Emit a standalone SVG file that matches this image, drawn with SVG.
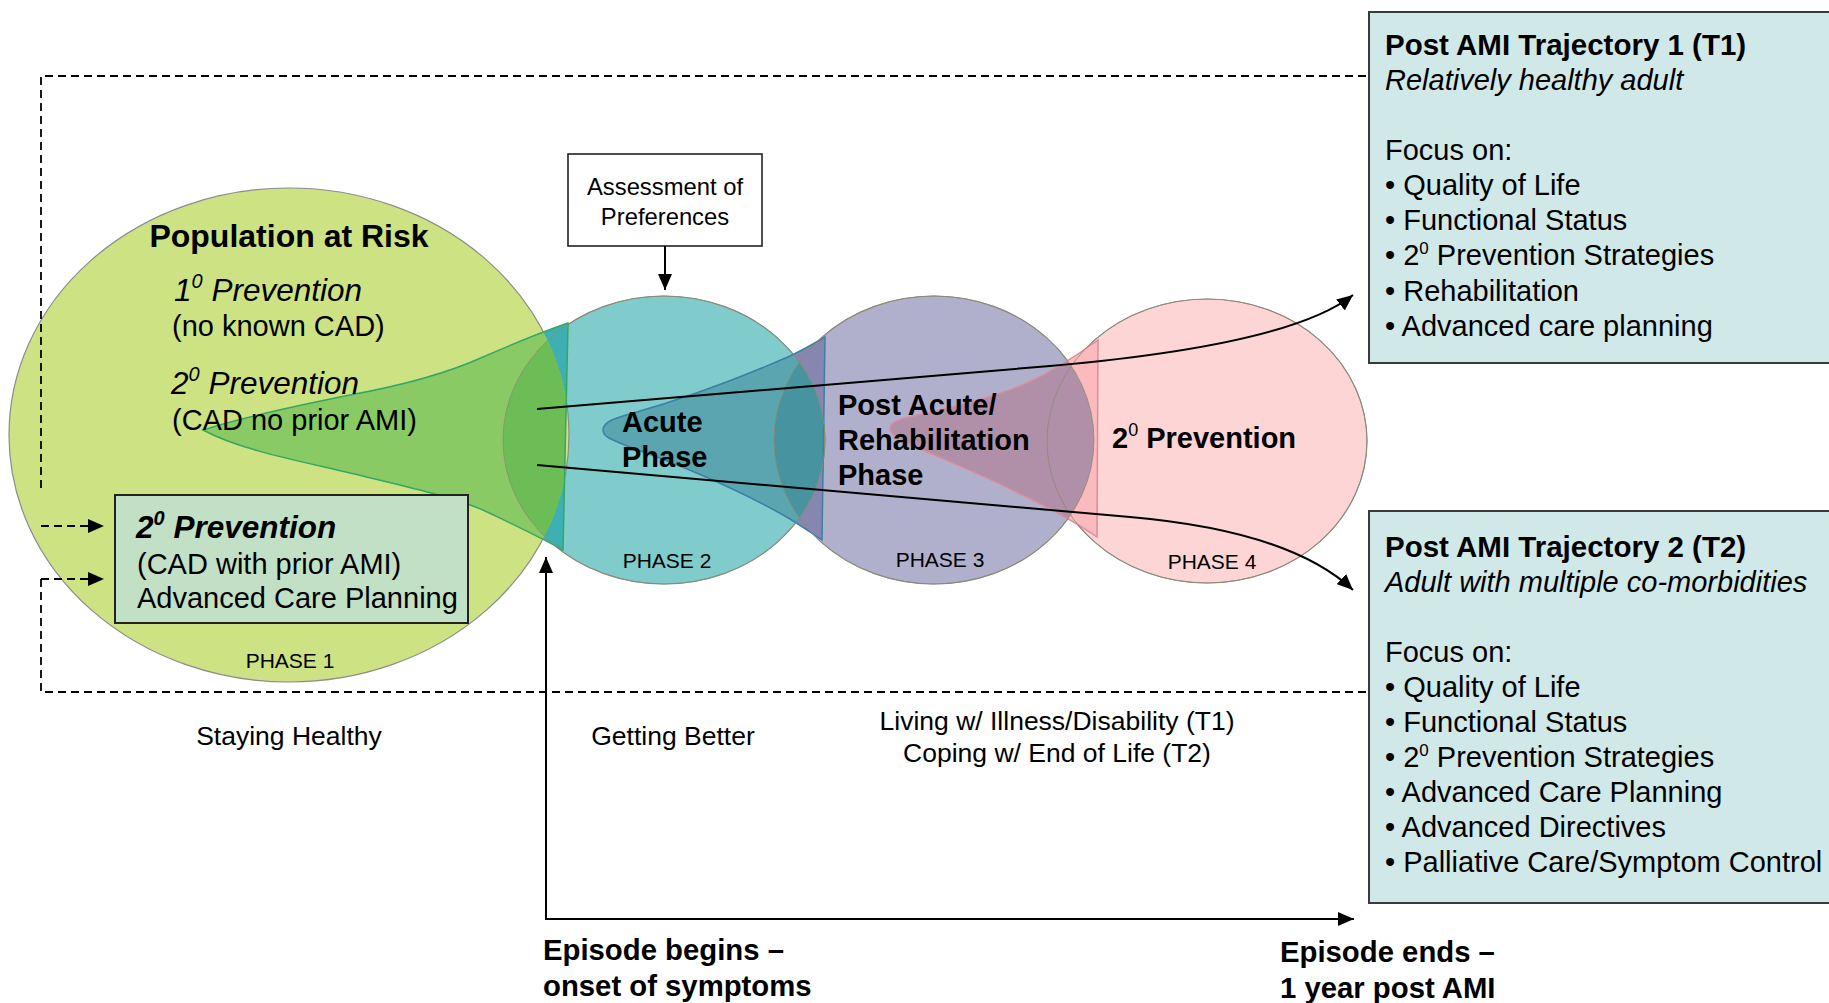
<svg xmlns="http://www.w3.org/2000/svg" xmlns:xlink="http://www.w3.org/1999/xlink" width="1829" height="1003" viewBox="0 0 1829 1003">
<style>
text{font-family:"Liberation Sans",Arial,sans-serif;fill:#000}
.ph{stroke:#8c8c8c;stroke-width:1.2}
.lbl{font-size:21px;text-anchor:middle}
.t29{font-size:29px}
.t26{font-size:26.5px}
.it{font-size:31.5px;font-style:italic}
.b{font-weight:bold}
.i{font-style:italic}
.box{font-size:29px}
.ep{font-size:29.3px;font-weight:bold}
.con{fill:none;stroke:#000;stroke-width:2}
.dash{fill:none;stroke:#000;stroke-width:1.8;stroke-dasharray:8 5}
.tbox{fill:#d0e8e8;stroke:#3a3a3a;stroke-width:2}
</style>
<defs>
<marker id="arr" markerUnits="userSpaceOnUse" markerWidth="16" markerHeight="14" viewBox="0 0 16 14" refX="16" refY="7" orient="auto">
<path d="M0,0 L16,7 L0,14 Z" fill="#000"/>
</marker>
<clipPath id="cp1"><ellipse cx="289" cy="435" rx="280" ry="247"/></clipPath>
<clipPath id="cp2"><ellipse cx="664" cy="440" rx="161" ry="144"/></clipPath>
<clipPath id="cp3"><ellipse cx="934" cy="440" rx="160" ry="144"/></clipPath>
<path id="fGreen" d="M203,430 C240,418 300,405 350,395 C410,384 450,372 483,357 C515,343 545,331 568,323 L563,550 C540,537 510,523 483,510 C450,496 400,485 350,473 C300,461 240,450 203,430 Z"/>
<path id="fTeal" d="M603,430 C603,422 615,418 630,414 C680,400 740,378 790,356 C805,349 815,343 825,337 L822,540 C810,532 800,525 790,519 C740,490 680,465 630,447 C612,440 603,437 603,430 Z"/>
<path id="fPink" d="M890,428 C890,422 900,419 913,416 C950,408 990,398 1020,386 C1050,373 1075,357 1098,340 L1097,537 C1075,522 1050,508 1020,494 C990,478 950,462 913,446 C900,440 890,436 890,428 Z"/>
</defs>
<rect width="1829" height="1003" fill="#fff"/>

<g id="phase4">
<ellipse class="ph" cx="1207" cy="441" rx="160" ry="142" fill="#fdd5d5"/>
<text class="t29 b" x="1112" y="448">2<tspan font-size="18" font-weight="normal" dy="-12">0</tspan><tspan dy="12"> Prevention</tspan></text>
<text class="lbl" x="1212" y="569">PHASE 4</text>
</g>

<g id="phase3">
<ellipse class="ph" cx="934" cy="440" rx="160" ry="144" fill="#b0b0cc"/>
<use xlink:href="#fPink" fill="#fbbabe"/>
<g clip-path="url(#cp3)"><use xlink:href="#fPink" fill="#b090a8"/></g>
<use xlink:href="#fPink" fill="none" stroke="#dc8c9c" stroke-width="1.5"/>
<text class="t29 b" x="838" y="415">Post Acute/</text>
<text class="t29 b" x="838" y="450">Rehabilitation</text>
<text class="t29 b" x="838" y="485">Phase</text>
<text class="lbl" x="940" y="567">PHASE 3</text>
</g>

<g id="phase2">
<ellipse class="ph" cx="664" cy="440" rx="161" ry="144" fill="#80cbcb"/>
<use xlink:href="#fTeal" fill="#8686b0"/>
<g clip-path="url(#cp2)"><use xlink:href="#fTeal" fill="#5aa5b0"/><g clip-path="url(#cp3)"><use xlink:href="#fTeal" fill="#4793a0"/></g></g>
<use xlink:href="#fTeal" fill="none" stroke="#3b80a6" stroke-width="1.5"/>
<text class="t29 b" x="622" y="432">Acute</text>
<text class="t29 b" x="622" y="467">Phase</text>
<text class="lbl" x="667" y="568">PHASE 2</text>
</g>

<g id="phase1">
<ellipse class="ph" cx="289" cy="435" rx="280" ry="247" fill="#cde383"/>
<use xlink:href="#fGreen" fill="#3eafb2"/>
<g clip-path="url(#cp1)"><use xlink:href="#fGreen" fill="#8aca64"/><g clip-path="url(#cp2)"><use xlink:href="#fGreen" fill="#6cbd55"/></g></g>
<use xlink:href="#fGreen" fill="none" stroke="#34a862" stroke-width="1.5"/>
<text class="b" x="289" y="247" font-size="32" text-anchor="middle">Population at Risk</text>
<text class="it" x="174" y="301">1<tspan font-size="20" dy="-13">0</tspan><tspan dy="13"> Prevention</tspan></text>
<text class="t29" x="172" y="336">(no known CAD)</text>
<text class="it" x="171" y="394">2<tspan font-size="20" dy="-13">0</tspan><tspan dy="13"> Prevention</tspan></text>
<text class="t29" x="172" y="430">(CAD no prior AMI)</text>
<text class="lbl" x="290" y="668">PHASE 1</text>
</g>

<g id="outlines" fill="none" stroke="#8c8c70" stroke-width="1" opacity="0.8">
<ellipse cx="664" cy="440" rx="161" ry="144"/>
<ellipse cx="934" cy="440" rx="160" ry="144"/>
<ellipse cx="1207" cy="441" rx="160" ry="142"/>
</g>

<g id="prior-ami-box">
<rect x="115" y="495" width="353" height="128" fill="#c2e0c6" stroke="#222" stroke-width="2"/>
<text class="b i" x="136" y="538" font-size="31.5">2<tspan font-size="20" dy="-13">0</tspan><tspan dy="13"> Prevention</tspan></text>
<text class="t29" x="137" y="574">(CAD with prior AMI)</text>
<text class="t29" x="137" y="608">Advanced Care Planning</text>
</g>

<g id="assessment">
<rect x="568" y="154" width="194" height="92" fill="#fff" stroke="#222" stroke-width="1.6"/>
<text x="665" y="195" font-size="23.8" text-anchor="middle">Assessment of</text>
<text x="665" y="225" font-size="23.8" text-anchor="middle">Preferences</text>
</g>

<g id="trajectory1">
<rect class="tbox" x="1369" y="12" width="480" height="351"/>
<text class="b" x="1385" y="55" font-size="29.5">Post AMI Trajectory 1 (T1)</text>
<text class="i box" x="1385" y="90">Relatively healthy adult</text>
<text class="box" x="1385" y="160">Focus on:</text>
<text class="box" x="1385" y="195">• Quality of Life</text>
<text class="box" x="1385" y="230">• Functional Status</text>
<text class="box" x="1385" y="265">• 2<tspan font-size="17" dy="-11">0</tspan><tspan dy="11"> Prevention Strategies</tspan></text>
<text class="box" x="1385" y="301">• Rehabilitation</text>
<text class="box" x="1385" y="336">• Advanced care planning</text>
</g>

<g id="trajectory2">
<rect class="tbox" x="1369" y="511" width="480" height="392"/>
<text class="b" x="1385" y="557" font-size="29.5">Post AMI Trajectory 2 (T2)</text>
<text class="i box" x="1385" y="592">Adult with multiple co-morbidities</text>
<text class="box" x="1385" y="662">Focus on:</text>
<text class="box" x="1385" y="697">• Quality of Life</text>
<text class="box" x="1385" y="732">• Functional Status</text>
<text class="box" x="1385" y="767">• 2<tspan font-size="17" dy="-11">0</tspan><tspan dy="11"> Prevention Strategies</tspan></text>
<text class="box" x="1385" y="802">• Advanced Care Planning</text>
<text class="box" x="1385" y="837">• Advanced Directives</text>
<text class="box" x="1385" y="872">• Palliative Care/Symptom Control</text>
</g>

<g id="stage-labels">
<text class="t26" x="289" y="745" text-anchor="middle">Staying Healthy</text>
<text class="t26" x="673" y="745" text-anchor="middle">Getting Better</text>
<text class="t26" x="1057" y="730" text-anchor="middle">Living w/ Illness/Disability (T1)</text>
<text class="t26" x="1057" y="762" text-anchor="middle">Coping w/ End of Life (T2)</text>
</g>

<g id="episode-begins">
<text class="ep" x="543" y="960">Episode begins –</text>
<text class="ep" x="543" y="996">onset of symptoms</text>
</g>

<g id="episode-ends">
<text class="ep" x="1280" y="962">Episode ends –</text>
<text class="ep" x="1280" y="998">1 year post AMI</text>
</g>

<g id="connectors">
<path class="dash" d="M41,488 L41,76 L1369,76"/>
<path class="dash" d="M41,579 L41,692 L1369,692"/>
<path class="dash" d="M41,526 L104,526" marker-end="url(#arr)"/>
<path class="dash" d="M41,579 L104,579" marker-end="url(#arr)"/>
<path class="con" d="M665,246 L665,290" marker-end="url(#arr)"/>
<path class="con" d="M537,409 L1050,366 Q1290,345 1353,295" marker-end="url(#arr)"/>
<path class="con" d="M537,465 L1130,517 Q1290,531 1353,590" marker-end="url(#arr)"/>
<path class="con" d="M546,920 L546,557" marker-end="url(#arr)"/>
<path class="con" d="M545,919 L1354,919" marker-end="url(#arr)"/>
</g>
</svg>
